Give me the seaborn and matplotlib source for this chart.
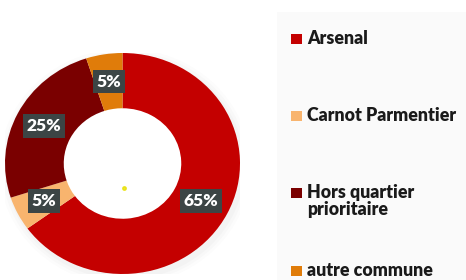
import matplotlib
matplotlib.use("Agg")
import matplotlib.pyplot as plt
from matplotlib.patches import Rectangle, Ellipse
import seaborn as sns

# Data
categories = ["Arsenal", "Carnot Parmentier", "Hors quartier\nprioritaire", "autre commune"]
shares = [65, 5, 25, 5]
colors = ["#C40000", "#F8B46E", "#7A0000", "#E07C0A"]

sns.set_theme(style="white")
plt.rcParams["font.family"] = ["Lato", "DejaVu Sans"]

W, H = 466, 280
fig = plt.figure(figsize=(W / 100, H / 100), dpi=100)
fig.patch.set_facecolor("white")

# very light grey panel behind the legend
fig.patches.append(Rectangle((277 / W, 0), 1, 1 - 12 / H, transform=fig.transFigure,
                             facecolor="#FAFAFA", edgecolor="none", zorder=0))

# donut axes (slightly wider than tall, as in the reference)
ax = fig.add_axes([5 / W, 6 / H, 235 / W, 221 / H])
ax.set_facecolor("none")

# soft halo behind the ring, hole kept white
for i, a in enumerate([0.035, 0.03, 0.025]):
    r = 1.02 + 0.025 * i
    ax.add_patch(Ellipse((0.02, -0.03), 2 * r, 2 * r, facecolor="#808080",
                         edgecolor="none", alpha=a, zorder=0))
ax.add_patch(Ellipse((0, 0), 1.02, 1.02, facecolor="white", edgecolor="none", zorder=0.5))

wedges, texts, autotexts = ax.pie(
    shares, colors=colors, startangle=90, counterclock=False,
    autopct="%.0f%%", pctdistance=0.75,
    wedgeprops=dict(width=0.5, edgecolor="none"),
    textprops=dict(color="white", fontsize=12.5, fontweight="heavy"),
)
for t in autotexts:
    t.set_bbox(dict(boxstyle="square,pad=0.22", facecolor="#3C4545", edgecolor="none"))
    t.set_zorder(5)
ax.set_aspect("auto")
ax.set_xlim(-1, 1)
ax.set_ylim(-1, 1)
ax.axis("off")

# tiny yellow dot in the hole
ax.plot([0.01], [-0.22], "o", color="#E8E000", markersize=2.5, alpha=0.8)

# legend, laid out by hand
legend_y = [39, 116, 193, 271]
for cat, col, y in zip(categories, colors, legend_y):
    fig.patches.append(Rectangle((291 / W, 1 - (y + 5) / H), 11 / W, 10 / H,
                                 transform=fig.transFigure, facecolor=col,
                                 edgecolor="none", zorder=2))
    fig.text(307 / W, 1 - (y - 9) / H, cat, ha="left", va="top", fontsize=12.8,
             fontweight="heavy", color="#1A1A1A", linespacing=1.0)

fig.savefig("out.png", dpi=100)
